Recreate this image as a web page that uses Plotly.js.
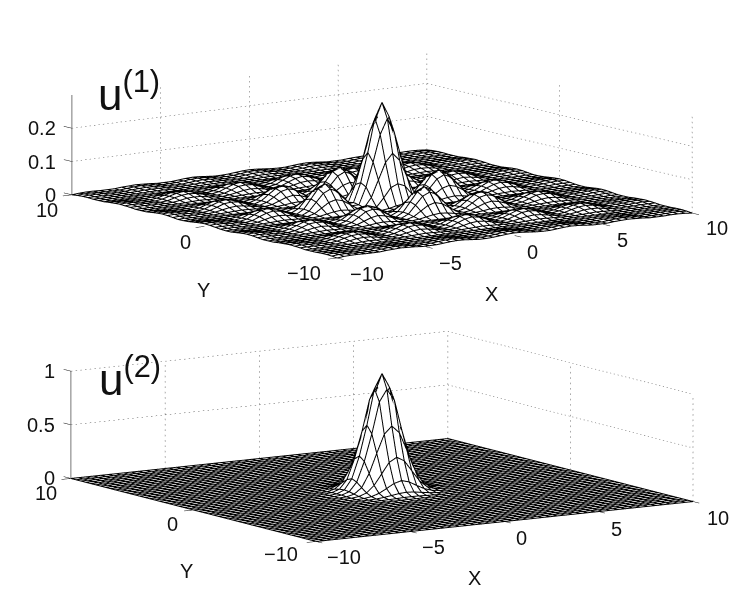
<!DOCTYPE html>
<html><head><meta charset="utf-8">
<script src="https://cdn.plot.ly/plotly-3.0.1.min.js"></script>
<style>html,body{margin:0;padding:0;background:#fff}</style></head>
<body><div id="g" style="width:735px;height:593px"></div>
<script>
const gridX=[-10,-9.6,-9.2,-8.8,-8.4,-8,-7.6,-7.2,-6.8,-6.4,-6,-5.6,-5.2,-4.8,-4.4,-4,-3.6,-3.2,-2.8,-2.4,-2,-1.6,-1.2,-.8,-.4,0,.4,.8,1.2,1.6,2,2.4,2.8,3.2,3.6,4,4.4,4.8,5.2,5.6,6,6.4,6.8,7.2,7.6,8,8.4,8.8,9.2,9.6,10];
// u(1) heights, in thousandths
const r25=[0,2,3,3,2,2,2,4,5,6,5,4,2,2,2,4,6,7,6,4,2,2,3,5,7,8,7,5,3,2,2,4,6,7,6,4,2,2,2,4,5,6,5,4,2,2,2,3,3,2,0];
const r24=[2,4,4,3,2,2,2,4,6,7,6,4,2,2,3,5,7,8,7,5,3,2,3,5,8,9,8,5,3,2,3,5,7,8,7,5,3,2,2,4,6,7,6,4,2,2,2,3,4,4,2];
const r23=[3,4,4,3,2,2,2,4,5,6,5,4,2,2,2,4,6,7,6,4,2,2,3,5,7,8,7,5,3,2,2,4,6,7,6,4,2,2,2,4,5,6,5,4,2,2,2,3,4,4,3];
const r22=[3,3,3,2,2,2,2,3,4,4,4,3,2,2,2,3,4,5,4,3,2,2,2,3,5,5,5,3,2,2,2,3,4,5,4,3,2,2,2,3,4,4,4,3,2,2,2,2,3,3,3];
const r21=[2,2,2,2,2,2,2,2,3,3,3,2,2,2,2,2,3,3,3,2,2,2,2,2,3,3,3,2,2,2,2,2,3,3,3,2,2,2,2,2,3,3,3,2,2,2,2,2,2,2,2];
const r16=[6,7,6,4,3,2,5,11,17,20,17,11,5,2,6,14,22,26,22,14,6,2,6,16,26,30,26,16,6,2,6,14,22,26,22,14,6,2,5,11,17,20,17,11,5,2,3,4,6,7,6];
const r15=[5,6,5,4,3,2,4,10,15,17,15,10,4,2,5,12,20,22,20,12,5,2,5,14,22,26,22,14,5,2,5,12,20,22,20,12,5,2,4,10,15,17,15,10,4,2,3,4,5,6,5];
const r14=[4,4,4,3,3,2,3,6,10,11,10,6,3,2,4,8,12,14,12,8,4,2,4,9,14,16,14,9,4,2,4,8,12,14,12,8,4,2,3,6,10,11,10,6,3,2,3,3,4,4,4];
const r13=[2,2,2,2,2,2,2,3,4,5,4,3,2,2,3,4,5,6,5,4,3,2,3,4,5,6,5,4,3,2,3,4,5,6,5,4,3,2,2,3,4,5,4,3,2,2,2,2,2,2,2];
const r12=[2,2,2,2,2,2,2,2,2,2,2,2,2,2,2,2,2,2,2,2,2,2,2,2,2,2,2,2,2,2,2,2,2,2,2,2,2,2,2,2,2,2,2,2,2,2,2,2,2,2,2];
const r8=[7,8,7,5,4,2,6,14,22,26,22,14,6,2,9,25,40,47,40,25,9,2,14,42,70,82,70,42,14,2,9,25,40,47,40,25,9,2,6,14,22,26,22,14,6,2,4,5,7,8,7];
const r7=[6,7,6,4,3,2,5,12,20,22,20,12,5,2,8,21,35,40,35,21,8,2,12,36,60,70,60,36,12,2,8,21,35,40,35,21,8,2,5,12,20,22,20,12,5,2,3,4,6,7,6];
const r6=[4,5,4,3,3,2,4,8,12,14,12,8,4,2,5,13,21,25,21,13,5,2,8,22,36,42,36,22,8,2,5,13,21,25,21,13,5,2,4,8,12,14,12,8,4,2,3,3,4,5,4];
const r5=[2,3,2,2,2,2,3,4,5,6,5,4,3,2,3,5,8,9,8,5,3,2,4,8,12,14,12,8,4,2,3,5,8,9,8,5,3,2,3,4,5,6,5,4,3,2,2,2,2,3,2];
const r4=[2,2,2,2,2,2,2,2,2,2,2,2,2,2,2,2,2,2,2,2,2,2,4,7,12,15,12,7,4,2,2,2,2,2,2,2,2,2,2,2,2,2,2,2,2,2,2,2,2,2,2];
const r3=[3,3,3,2,2,2,3,4,5,6,5,4,3,2,4,8,12,14,12,8,4,4,10,35,63,72,63,35,10,4,4,8,12,14,12,8,4,2,3,4,5,6,5,4,3,2,2,2,3,3,3];
const r2=[5,5,5,3,3,2,4,9,14,16,14,9,4,2,8,22,36,42,36,22,8,7,35,85,135,160,135,85,35,7,8,22,36,42,36,22,8,2,4,9,14,16,14,9,4,2,3,3,5,5,5];
const r1=[7,8,7,5,4,2,5,14,22,26,22,14,5,2,12,36,60,70,60,36,12,12,63,135,215,260,215,135,63,12,12,36,60,70,60,36,12,2,5,14,22,26,22,14,5,2,4,5,7,8,7];
const r0=[8,9,8,5,4,2,6,16,26,30,26,16,6,2,14,42,70,82,70,42,14,15,72,160,260,305,260,160,72,15,14,42,70,82,70,42,14,2,6,16,26,30,26,16,6,2,4,5,8,9,8];
const rows1=[r25,r24,r23,r22,r21,r12,r13,r14,r15,r16,r15,r14,r13,r12,r5,r6,r7,r8,r7,r6,r5,r4,r3,r2,r1,r0,r1,r2,r3,r4,r5,r6,r7,r8,r7,r6,r5,r12,r13,r14,r15,r16,r15,r14,r13,r12,r21,r22,r23,r24,r25];
// u(2) heights in thousandths: flat zero outside |x|,|y| <= 2.8
const flat=[0,0,0,0,0,0,0,0,0,0,0,0,0,0,0,0,0,0];
const flatRow=[...flat,0,0,0,0,0,0,0,0,0,0,0,0,0,0,0,...flat];
const b7=[...flat,0,0,0,0,1,1,2,2,2,1,1,0,0,0,0,...flat];
const b6=[...flat,0,0,1,1,3,5,8,9,8,5,3,1,1,0,0,...flat];
const b5=[...flat,0,1,2,5,12,22,33,38,33,22,12,5,2,1,0,...flat];
const b4=[...flat,0,1,5,15,38,75,115,135,115,75,38,15,5,1,0,...flat];
const b3=[...flat,1,3,12,38,100,200,300,340,300,200,100,38,12,3,1,...flat];
const b2=[...flat,1,5,22,75,200,380,550,620,550,380,200,75,22,5,1,...flat];
const b1=[...flat,2,9,33,115,300,550,840,950,840,550,300,115,33,9,2,...flat];
const b0=[...flat,2,9,38,135,340,620,950,1085,950,620,340,135,38,9,2,...flat];
const rows2=[...flat.map(()=>flatRow),b7,b6,b5,b4,b3,b2,b1,b0,b1,b2,b3,b4,b5,b6,b7,...flat.map(()=>flatRow)];
const xTicks=[-10,-5,0,5,10], yTicks=[10,0,-10];
const xTickLabels=['\u221210','\u22125','0','5','10'], yTickLabels=['10','0','\u221210'];
const zTicks1=[0,0.1,0.2], zTicks2=[0,0.5,1];
const zTickLabels1=['0','0.1','0.2'], zTickLabels2=['0','0.5','1'];
const zMax1=0.3, zMax2=1;
const FONT='"Liberation Sans",Arial,sans-serif';
const scaled=r=>r.map(row=>row.map(v=>v/1000));
function seg(list){const o={x:[],y:[],z:[]};list.forEach(([a,b])=>{o.x.push(a[0],b[0],null);o.y.push(a[1],b[1],null);o.z.push(a[2],b[2],null);});return o;}
function dots(a,b,n){const r=[];for(let i=0;i<n;i++){const t=i/n,u=(i+0.3)/n;r.push([[0,1,2].map(k=>a[k]+(b[k]-a[k])*t),[0,1,2].map(k=>a[k]+(b[k]-a[k])*u)]);}return r;}
function meshLines(xs,Z){const o={x:[],y:[],z:[]};const ys=[...xs];
 Z.forEach((row,j)=>{row.forEach((v,i)=>{o.x.push(xs[i]);o.y.push(ys[j]);o.z.push(v);});o.x.push(null);o.y.push(null);o.z.push(null);});
 xs.forEach((x,i)=>{Z.forEach((row,j)=>{o.x.push(x);o.y.push(ys[j]);o.z.push(row[i]);});o.x.push(null);o.y.push(null);o.z.push(null);});
 return o;}
function traces(sc,xs,rows,zt,zmax,sink){
 const out=[],Z=scaled(rows).slice().reverse();
 // white occluder just under the mesh, black mesh lines on the data nodes
 out.push({type:'surface',scene:sc,x:xs,y:xs,z:Z.map(r=>r.map(v=>v*0.94-sink)),showscale:false,hoverinfo:'skip',
  colorscale:[[0,'#fff'],[1,'#fff']],lighting:{ambient:1,diffuse:0,specular:0,fresnel:0,roughness:1},
  contours:{x:{show:false},y:{show:false},z:{show:false}}});
 out.push(Object.assign({type:'scatter3d',mode:'lines',scene:sc,hoverinfo:'skip',showlegend:false,line:{color:'#000',width:2}},meshLines(xs,Z)));
 const walls=[];
 xTicks.slice(1).forEach(x=>walls.push(...dots([x,10,0],[x,10,zmax],20)));
 yTicks.slice(1).forEach(y=>walls.push(...dots([10,y,0],[10,y,zmax],20)));
 zt.slice(1).forEach(z=>{walls.push(...dots([-10,10,z],[10,10,z],80));walls.push(...dots([10,10,z],[10,-10,z],65));});
 out.push(Object.assign({type:'scatter3d',mode:'lines',scene:sc,hoverinfo:'skip',showlegend:false,line:{color:'#555',width:1}},seg(walls)));
 const ax=[[[-10,10,0],[-10,10,zmax]]];
 out.push(Object.assign({type:'scatter3d',mode:'lines',scene:sc,hoverinfo:'skip',showlegend:false,line:{color:'#777',width:2}},seg(ax)));
 const tk=[];
 xTicks.forEach(x=>tk.push([[x,-10,0],[x,-10.5,0]]));
 yTicks.forEach(y=>tk.push([[-10,y,0],[-10.5,y,0]]));
 zt.forEach(z=>tk.push([[-10,10,z],[-10,10.6,z]]));
 out.push(Object.assign({type:'scatter3d',mode:'lines',scene:sc,hoverinfo:'skip',showlegend:false,line:{color:'#111',width:1}},seg(tk)));
 return out;
}
const hidden={showgrid:false,zeroline:false,showticklabels:false,showline:false,showbackground:false,showspikes:false,ticks:'',title:{text:''}};
function lab(x,y,z,text,dx,dy,anchor){return {x,y,z,text,showarrow:false,xshift:dx,yshift:-dy,xanchor:anchor||'center',yanchor:'middle',font:{family:FONT,size:20,color:'#111'}};}
function annots(zt,zl,xd,yd,xT,yT){
 const a=[];
 xTicks.forEach((x,i)=>a.push(lab(x,-10,0,xTickLabels[i],xd[i][0],xd[i][1])));
 yTicks.forEach((y,i)=>a.push(lab(-10,y,0,yTickLabels[i],yd[i][0],yd[i][1])));
 zt.forEach((z,i)=>a.push(lab(-10,10,z,zl[i],-14,0,'right')));
 a.push(lab(0,-10,0,'X',xT[0],xT[1]));
 a.push(lab(-10,0,0,'Y',yT[0],yT[1]));
 return a;
}
function scene(dom,zr,eye,asp,ann){return {domain:dom,xaxis:Object.assign({range:[-11,11]},hidden),yaxis:Object.assign({range:[-11,11]},hidden),zaxis:Object.assign({range:zr},hidden),
 aspectmode:'manual',aspectratio:asp,camera:{projection:{type:'orthographic'},eye,up:{x:0,y:0,z:1},center:{x:0,y:0,z:0}},annotations:ann};}
const E1=10,E2=10,S=3.65;
const layout={width:735,height:593,margin:{l:0,r:0,t:0,b:0},paper_bgcolor:'#fff',showlegend:false,
 scene:scene({x:[29/735,1],y:[1-289/593,1-19/593]},[-0.03,0.33],{x:-.580*E1,y:-.796*E1,z:.1736*E1},{x:3.58,y:3.67,z:.9015},
  annots(zTicks1,zTickLabels1,[[30,16],[25,16],[18,16],[19,16],[25,15]],[[-25,15],[-19,16],[-33,15]],[-23,58],[-1,64])),
 scene2:scene({x:[29/735,1],y:[1-566/593,1-296/593]},[-0.1,1.2],{x:-.533*E2,y:-.830*E2,z:.165*E2},{x:S,y:1.013*S,z:.287*S},
  annots(zTicks2,zTickLabels2,[[28,16],[23,16],[17,16],[18,17],[25,16]],[[-25,15],[-21,14],[-35,13]],[-30,56],[-7.5,61])),
 annotations:[
 {xref:'paper',yref:'paper',x:96/735,y:1-62/593,xanchor:'left',yanchor:'top',showarrow:false,text:'u<sup>(1)</sup>',font:{family:FONT,size:44,color:'#111'}},
 {xref:'paper',yref:'paper',x:97/735,y:1-347/593,xanchor:'left',yanchor:'top',showarrow:false,text:'u<sup>(2)</sup>',font:{family:FONT,size:44,color:'#111'}}]};
Plotly.newPlot('g',[...traces('scene',gridX,rows1,zTicks1,zMax1,0.0015),...traces('scene2',gridX,rows2,zTicks2,zMax2,0.005)],layout,{displayModeBar:false});
</script></body></html>
